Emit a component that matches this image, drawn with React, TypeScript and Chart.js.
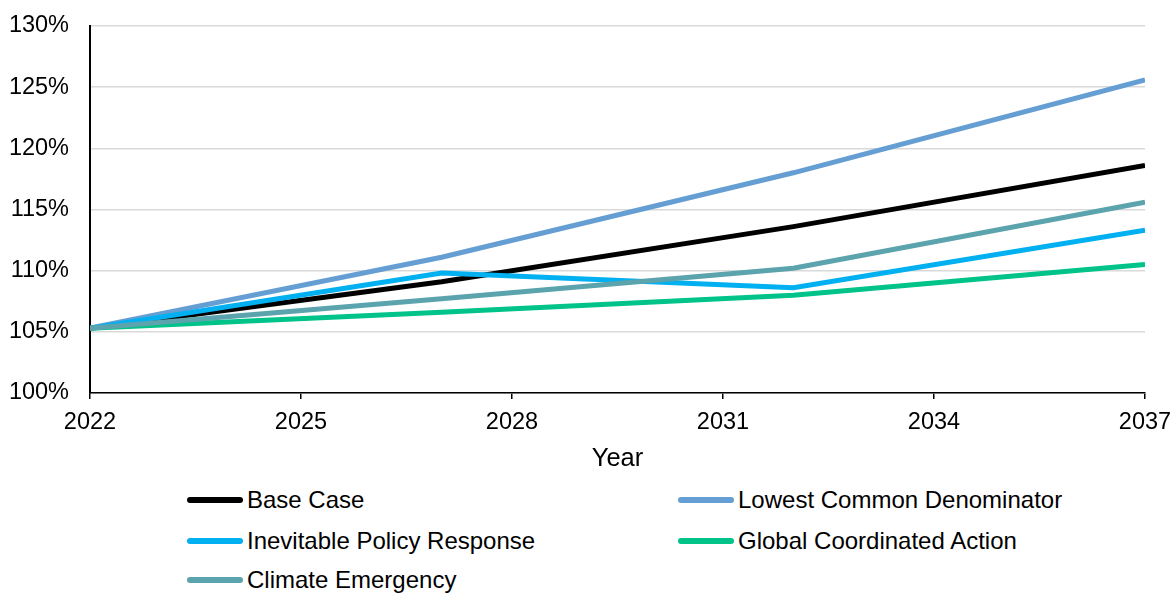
import React, { useEffect, useRef } from "react";
import { Chart, registerables } from "chart.js";

Chart.register(...registerables);

const years = [2022, 2027, 2032, 2037];
const baseCase = [105.3, 109.1, 113.6, 118.6];
const lowestCommonDenominator = [105.3, 111.1, 118.0, 125.6];
const inevitablePolicyResponse = [105.3, 109.8, 108.6, 113.3];
const globalCoordinatedAction = [105.3, 106.6, 108.0, 110.5];
const climateEmergency = [105.3, 107.7, 110.2, 115.6];

const seriesNames = [
  "Base Case",
  "Lowest Common Denominator",
  "Inevitable Policy Response",
  "Global Coordinated Action",
  "Climate Emergency",
];
const seriesValues = [
  baseCase,
  lowestCommonDenominator,
  inevitablePolicyResponse,
  globalCoordinatedAction,
  climateEmergency,
];
const seriesColors = ["#000000", "#659ed3", "#00b0f0", "#00c389", "#5ba3ad"];

const xTickMin = 2022;
const xTickMax = 2037;
const xTickStep = 3;
const yTickMin = 100;
const yTickMax = 130;
const yTickStep = 5;
const xTitle = "Year";

const FONT = "Arial, 'Liberation Sans', sans-serif";

export default function App() {
  const canvasRef = useRef<HTMLCanvasElement | null>(null);

  useEffect(() => {
    const ctx = canvasRef.current;
    if (!ctx) return;
    const chart = new Chart(ctx, {
      type: "line",
      data: {
        datasets: seriesNames.map((name, i) => ({
          label: name,
          data: years.map((yr, j) => ({ x: yr, y: seriesValues[i][j] })),
          borderColor: seriesColors[i],
          backgroundColor: seriesColors[i],
          borderWidth: 5,
          pointRadius: 0,
          tension: 0,
          fill: false,
          order: seriesNames.length - i,
        })),
      },
      options: {
        animation: false,
        responsive: true,
        maintainAspectRatio: false,
        layout: { padding: { left: 0, right: 28, top: 26, bottom: 0 } },
        plugins: {
          legend: { display: false },
          tooltip: { enabled: false },
        },
        scales: {
          x: {
            type: "linear",
            min: xTickMin,
            max: xTickMax,
            border: { color: "#000", width: 1.5 },
            grid: {
              drawOnChartArea: false,
              drawTicks: true,
              tickLength: 6,
              color: "#000",
              lineWidth: 1.5,
            },
            ticks: {
              stepSize: xTickStep,
              color: "#000",
              font: { family: FONT, size: 23.5 },
              padding: 9,
              maxRotation: 0,
              callback: (v: any) => String(v),
            },
            title: {
              display: true,
              text: xTitle,
              color: "#000",
              font: { family: FONT, size: 25.5 },
              padding: { top: 0, bottom: 6 },
            },
            afterFit: (scale: any) => {
              scale.height = 87;
              scale.paddingLeft = 0;
              scale.paddingRight = 0;
            },
          },
          y: {
            min: yTickMin,
            max: yTickMax,
            border: { color: "#000", width: 2 },
            grid: {
              drawTicks: false,
              color: "#d9d9d9",
              lineWidth: 1.5,
            },
            ticks: {
              stepSize: yTickStep,
              color: "#000",
              font: { family: FONT, size: 23.5 },
              padding: 21,
              callback: (v: any) => v + "%",
            },
            afterFit: (scale: any) => {
              scale.width = 90;
              scale.paddingTop = 0;
              scale.paddingBottom = 0;
            },
          },
        },
      },
    });
    return () => chart.destroy();
  }, []);

  const legendLeft = [187, 678];
  const legendTop = [500, 541, 580];

  return (
    <div
      style={{
        position: "fixed",
        left: 0,
        top: 0,
        width: 1173,
        height: 593,
        background: "#fff",
        overflow: "hidden",
        fontFamily: FONT,
      }}
    >
      <div style={{ position: "absolute", left: 0, top: 0, width: 1173, height: 480 }}>
        <canvas ref={canvasRef} />
      </div>
      {seriesNames.map((name, i) => (
        <div
          key={name}
          style={{
            position: "absolute",
            left: legendLeft[i % 2],
            top: legendTop[Math.floor(i / 2)] - 15,
            height: 30,
            display: "flex",
            alignItems: "center",
            fontSize: 24,
            color: "#000",
            whiteSpace: "nowrap",
          }}
        >
          <span
            style={{
              display: "inline-block",
              width: 56,
              height: 6,
              borderRadius: 3,
              background: seriesColors[i],
              marginRight: 4,
            }}
          />
          <span>{name}</span>
        </div>
      ))}
    </div>
  );
}
